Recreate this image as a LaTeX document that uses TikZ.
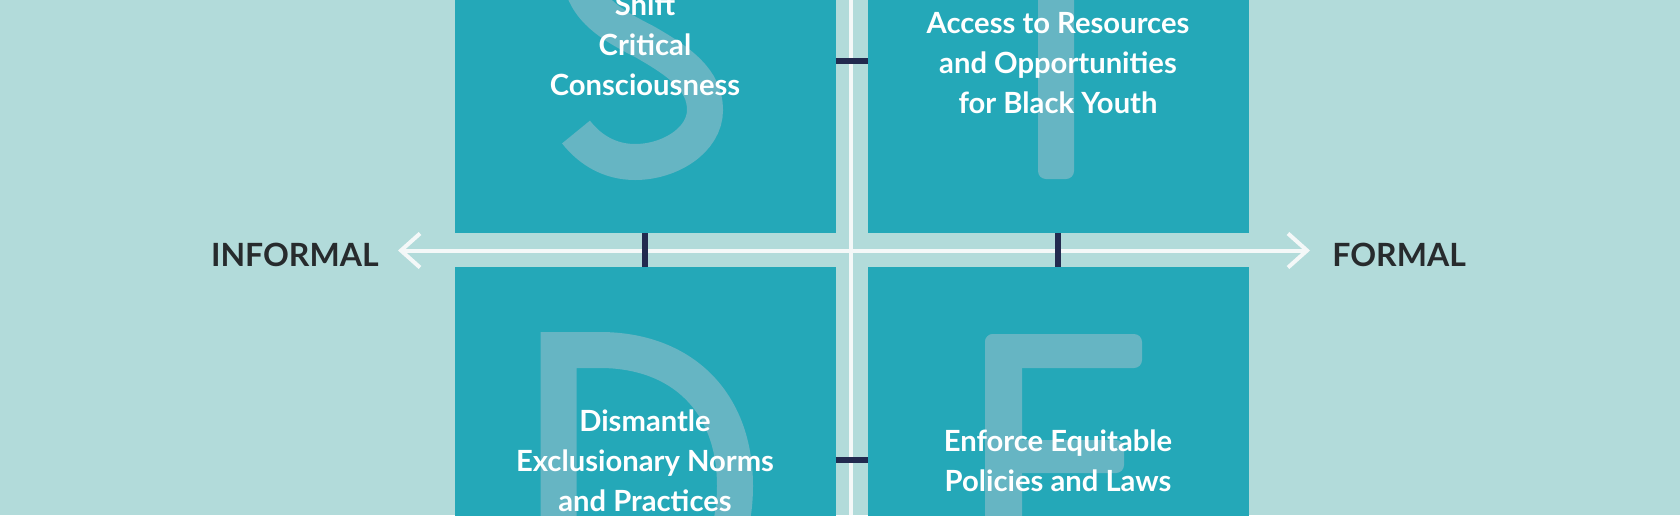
\documentclass[tikz,border=0pt]{standalone}
\usepackage{fontspec}
\setmainfont{Lato}
\usetikzlibrary{positioning,arrows.meta}

\definecolor{bgteal}{HTML}{B2DBDA}
\definecolor{boxteal}{HTML}{24A8B8}
\definecolor{faint}{HTML}{66B5C3}
\definecolor{navy}{HTML}{222A4F}
\definecolor{chalk}{HTML}{F4F8F8}
\definecolor{ink}{HTML}{272B2D}

\tikzset{
  quad/.style={fill=boxteal, inner sep=0pt, outer sep=0pt, minimum width=190.5pt},
  blurb/.style={text=white, align=center, inner sep=0pt, font=\bfseries\fontsize{14.6}{20}\selectfont},
  axislabel/.style={text=ink, inner sep=0pt, font=\bfseries\fontsize{16}{16}\selectfont},
  tick/.style={draw=navy, line width=3.2pt},
  axis/.style={draw=chalk, line width=2pt},
  ghost/.style={draw=faint, line width=18pt}
}

\begin{document}
\begin{tikzpicture}[x=0.5pt, y=-0.5pt, >={Straight Barb[length=9.5pt,width=17pt]}]
    \useasboundingbox (0,0) rectangle (1680,515);
    \clip (0,0) rectangle (1680,515);
    \fill[bgteal] (0,0) rectangle (1680,515);

    % four quadrants
    \node[quad, minimum height=172pt] (shift) at (645,61) {};
    \node[quad, minimum height=172pt] (access) at (1058,61) {};
    \node[quad, minimum height=193pt] (dismantle) at (645,460) {};
    \node[quad, minimum height=193pt] (enforce) at (1058,460) {};

    % big letters
    \draw[ghost] (705,-60) .. controls (690,-80) and (665,-88) .. (640,-88)
        .. controls (605,-88) and (580,-62) .. (580,-32)
        .. controls (580,8) and (612,25) .. (645,42)
        .. controls (680,62) and (705,80) .. (705,110)
        .. controls (705,140) and (670,162) .. (635,162)
        .. controls (610,162) and (590,150) .. (576,132);
    \fill[faint, rounded corners=4pt] (1038,-97) rectangle (1074,179);
    \fill[faint, rounded corners=4pt] (958,-97) rectangle (1158,-61);
    \draw[ghost, line join=miter] (600,350) .. controls (680,350) and (735,400) .. (735,486)
        .. controls (735,572) and (680,622) .. (600,622) -- (558.5,622) -- (558.5,350) -- cycle;
    \fill[faint, rounded corners=4pt] (985,334) rectangle (1022,579);
    \fill[faint, rounded corners=4pt] (985,334) rectangle (1142,368);
    \fill[faint, rounded corners=4pt] (985,440) rectangle (1124,473);
    \fill[faint, rounded corners=4pt] (985,545) rectangle (1142,579);

    % axes
    \coordinate (west) at (398,250.5);
    \coordinate (east) at (1310,250.5);
    \coordinate (top) at (851,0);
    \coordinate (bottom) at (851,515);
    \draw[axis] (top) -- (bottom);
    \draw[axis, <->] (west) -- (east);

    % ticks between quadrants
    \draw[tick] (shift.south) -- (dismantle.north);
    \draw[tick] (access.south) -- (enforce.north);
    \draw[tick] (shift.east) -- (access.west);
    \draw[tick] (dismantle.east) -- (enforce.west);

    % texts
    \node[blurb] (shifttext) at (645,45) {Shift\\Critical\\Consciousness};
    \node[blurb] (accesstext) at (1058,63) {Access to Resources\\and Opportunities\\for Black Youth};
    \node[blurb] (dismantletext) at (645,461) {Dismantle\\Exclusionary Norms\\and Practices};
    \node[blurb] (enforcetext) at (1058,461) {Enforce Equitable\\Policies and Laws};
    \node[axislabel, left=9.5pt of west, yshift=-2pt] (informal) {INFORMAL};
    \node[axislabel, right=11pt of east, yshift=-2pt] (formal) {FORMAL};
\end{tikzpicture}
\end{document}
